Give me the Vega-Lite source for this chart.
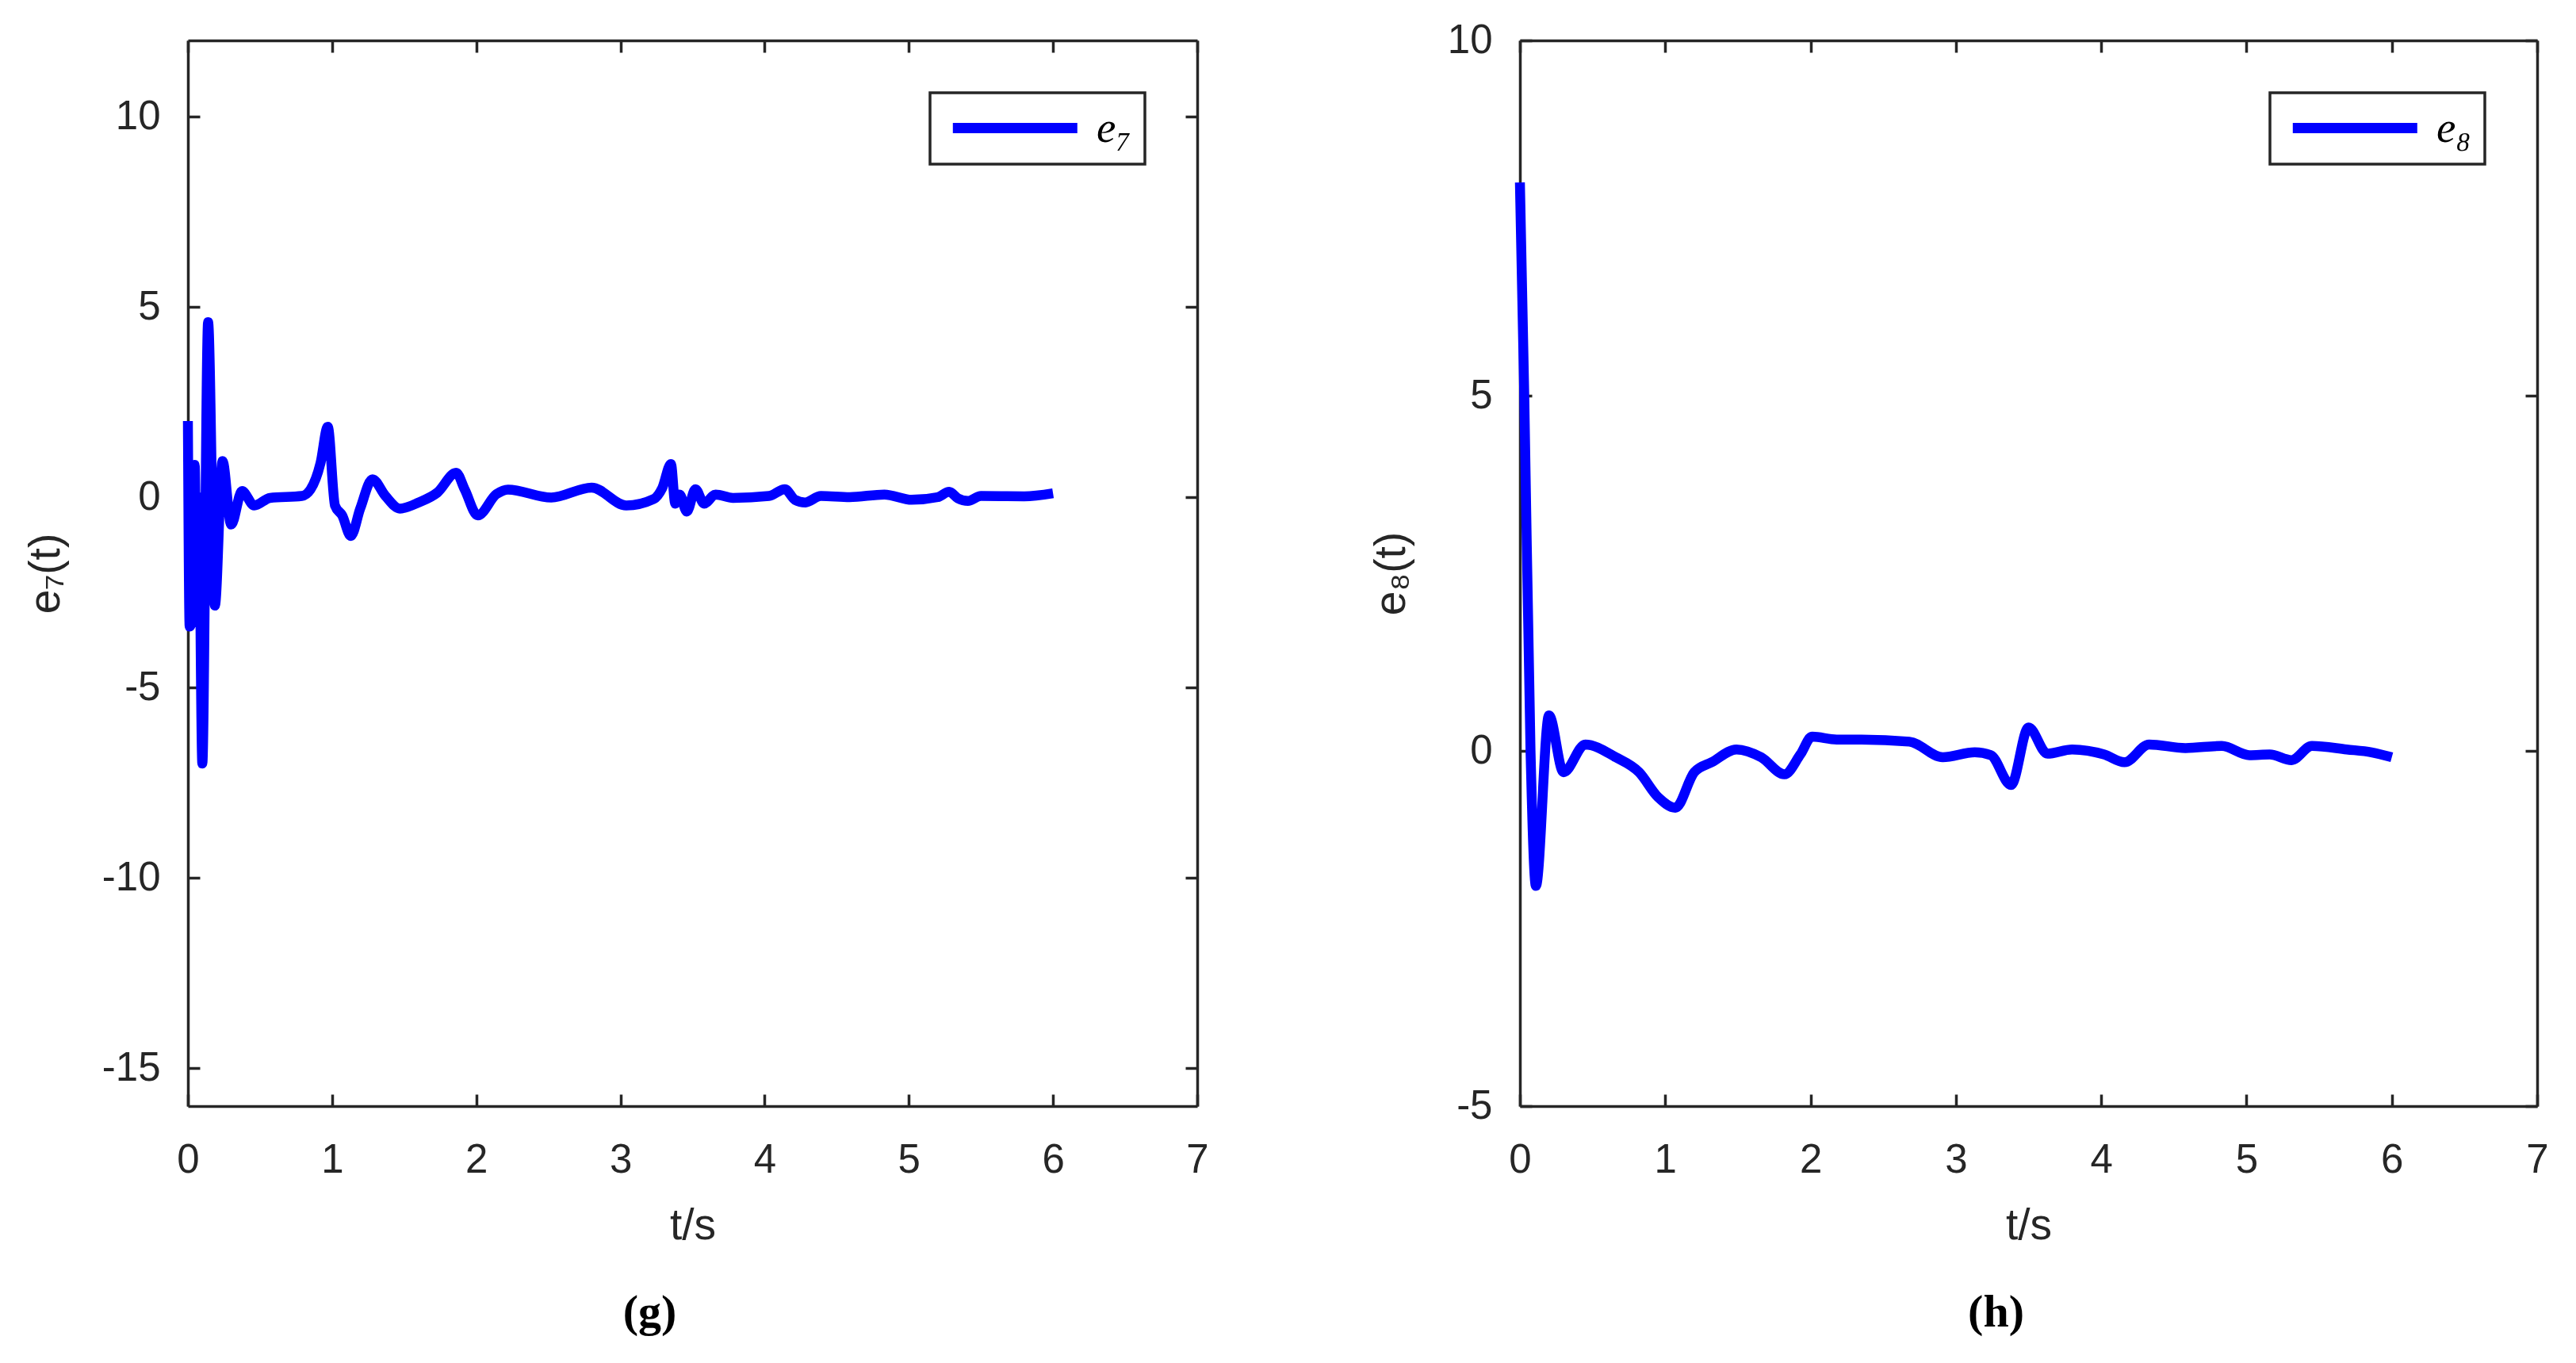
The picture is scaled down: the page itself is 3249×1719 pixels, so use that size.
{
  "$schema": "https://vega.github.io/schema/vega-lite/v6.json",
  "padding": {"left": 30, "top": 25, "right": 40, "bottom": 20},
  "background": "white",
  "config": {
    "view": {"stroke": null},
    "axis": {
      "grid": false,
      "domainColor": "#262626", "domainWidth": 3.5,
      "tickColor": "#262626", "tickWidth": 3.5, "tickSize": -15,
      "labelFont": "Liberation Sans", "labelFontSize": 51, "labelColor": "#262626",
      "labelFlush": false, "labelOverlap": false, "labelExpr": "datum.value + ''",
      "titleFont": "Liberation Sans", "titleFontSize": 55, "titleColor": "#262626", "titleFontWeight": "normal"
    },
    "legend": {
      "orient": "top-right", "offset": 66, "title": null,
      "fillColor": "white", "strokeColor": "#262626", "padding": 17,
      "symbolType": "M-1,0H9", "symbolSize": 986, "symbolStrokeWidth": 13, "symbolStrokeColor": "#0000ff",
      "labelFont": "Liberation Serif", "labelFontStyle": "italic", "labelFontSize": 55, "labelColor": "#000000", "labelOffset": 138
    },
    "title": {"font": "Liberation Serif", "fontWeight": "bold", "fontSize": 58, "color": "#000000"}
  },
  "hconcat": [
    {
      "width": 1273, "height": 1344,
      "title": {"text": "(g)", "orient": "bottom", "frame": "group", "dx": -54, "offset": 54},
      "data": {"values": [
        {"t": 0, "v": 2.0, "s": "e₇"}, {"t": 0.012, "v": -3.4, "s": "e₇"}, {"t": 0.03, "v": -3.2, "s": "e₇"},
        {"t": 0.047, "v": 0.85, "s": "e₇"}, {"t": 0.062, "v": -2.6, "s": "e₇"}, {"t": 0.075, "v": 0.0, "s": "e₇"},
        {"t": 0.1, "v": -7.0, "s": "e₇"}, {"t": 0.14, "v": 4.6, "s": "e₇"}, {"t": 0.187, "v": -2.85, "s": "e₇"},
        {"t": 0.24, "v": 0.95, "s": "e₇"}, {"t": 0.3, "v": -0.72, "s": "e₇"}, {"t": 0.375, "v": 0.16, "s": "e₇"},
        {"t": 0.46, "v": -0.22, "s": "e₇"}, {"t": 0.57, "v": -0.02, "s": "e₇"}, {"t": 0.79, "v": 0.03, "s": "e₇"},
        {"t": 0.85, "v": 0.2, "s": "e₇"}, {"t": 0.92, "v": 0.9, "s": "e₇"}, {"t": 0.97, "v": 1.85, "s": "e₇"},
        {"t": 1.02, "v": -0.22, "s": "e₇"}, {"t": 1.07, "v": -0.48, "s": "e₇"}, {"t": 1.13, "v": -1.02, "s": "e₇"},
        {"t": 1.195, "v": -0.3, "s": "e₇"}, {"t": 1.28, "v": 0.47, "s": "e₇"}, {"t": 1.37, "v": 0.03, "s": "e₇"},
        {"t": 1.47, "v": -0.3, "s": "e₇"}, {"t": 1.6, "v": -0.14, "s": "e₇"}, {"t": 1.73, "v": 0.12, "s": "e₇"},
        {"t": 1.86, "v": 0.64, "s": "e₇"}, {"t": 1.92, "v": 0.2, "s": "e₇"}, {"t": 2.01, "v": -0.48, "s": "e₇"},
        {"t": 2.14, "v": 0.08, "s": "e₇"}, {"t": 2.22, "v": 0.2, "s": "e₇"}, {"t": 2.52, "v": -0.01, "s": "e₇"},
        {"t": 2.8, "v": 0.25, "s": "e₇"}, {"t": 3.04, "v": -0.22, "s": "e₇"}, {"t": 3.23, "v": -0.05, "s": "e₇"},
        {"t": 3.29, "v": 0.24, "s": "e₇"}, {"t": 3.35, "v": 0.87, "s": "e₇"}, {"t": 3.38, "v": -0.17, "s": "e₇"},
        {"t": 3.41, "v": 0.07, "s": "e₇"}, {"t": 3.46, "v": -0.38, "s": "e₇"}, {"t": 3.52, "v": 0.21, "s": "e₇"},
        {"t": 3.58, "v": -0.17, "s": "e₇"}, {"t": 3.66, "v": 0.07, "s": "e₇"}, {"t": 3.78, "v": -0.02, "s": "e₇"},
        {"t": 4.03, "v": 0.03, "s": "e₇"}, {"t": 4.14, "v": 0.21, "s": "e₇"}, {"t": 4.21, "v": -0.07, "s": "e₇"},
        {"t": 4.28, "v": -0.14, "s": "e₇"}, {"t": 4.39, "v": 0.03, "s": "e₇"}, {"t": 4.59, "v": 0.0, "s": "e₇"},
        {"t": 4.83, "v": 0.07, "s": "e₇"}, {"t": 5.02, "v": -0.07, "s": "e₇"}, {"t": 5.2, "v": 0.0, "s": "e₇"},
        {"t": 5.28, "v": 0.14, "s": "e₇"}, {"t": 5.34, "v": -0.03, "s": "e₇"}, {"t": 5.41, "v": -0.1, "s": "e₇"},
        {"t": 5.5, "v": 0.03, "s": "e₇"}, {"t": 5.8, "v": 0.02, "s": "e₇"}, {"t": 6.0, "v": 0.1, "s": "e₇"}
      ]},
      "layer": [
        {
          "mark": {"type": "line", "strokeWidth": 12.5, "interpolate": "monotone", "strokeCap": "butt", "strokeJoin": "round"},
          "encoding": {
            "x": {"field": "t", "type": "quantitative", "title": "t/s",
                  "scale": {"domain": [0, 7], "nice": false, "zero": false},
                  "axis": {"orient": "bottom", "values": [0, 1, 2, 3, 4, 5, 6, 7], "labelPadding": 58, "titlePadding": 31}},
            "y": {"field": "v", "type": "quantitative", "title": "e₇(t)",
                  "scale": {"domain": [-16, 12], "nice": false, "zero": false},
                  "axis": {"orient": "left", "values": [-15, -10, -5, 0, 5, 10], "labelPadding": 50, "titlePadding": 42}},
            "color": {"field": "s", "type": "nominal", "scale": {"domain": ["e₇"], "range": ["#0000ff"]},
                      "legend": {"encode": {"legend": {"update": {"strokeWidth": {"value": 3.5}}}}}}
          }
        },
        {
          "mark": {"type": "line", "opacity": 0},
          "encoding": {
            "x": {"field": "t", "type": "quantitative",
                  "scale": {"domain": [0, 7], "nice": false, "zero": false},
                  "axis": {"orient": "top", "values": [0, 1, 2, 3, 4, 5, 6, 7], "labels": false, "title": null}},
            "y": {"field": "v", "type": "quantitative",
                  "scale": {"domain": [-16, 12], "nice": false, "zero": false},
                  "axis": {"orient": "right", "values": [-15, -10, -5, 0, 5, 10], "labels": false, "title": null}}
          }
        }
      ],
      "resolve": {"axis": {"x": "independent", "y": "independent"}}
    },
    {
      "width": 1283, "height": 1344,
      "title": {"text": "(h)", "orient": "bottom", "frame": "group", "dx": -41, "offset": 54},
      "data": {"values": [
        {"t": 0, "v": 8.0, "s": "e₈"}, {"t": 0.03, "v": 5.0, "s": "e₈"}, {"t": 0.073, "v": 0.0, "s": "e₈"},
        {"t": 0.11, "v": -1.9, "s": "e₈"}, {"t": 0.2, "v": 0.5, "s": "e₈"}, {"t": 0.3, "v": -0.3, "s": "e₈"},
        {"t": 0.45, "v": 0.09, "s": "e₈"}, {"t": 0.66, "v": -0.09, "s": "e₈"}, {"t": 0.82, "v": -0.3, "s": "e₈"},
        {"t": 0.95, "v": -0.65, "s": "e₈"}, {"t": 1.07, "v": -0.8, "s": "e₈"}, {"t": 1.2, "v": -0.3, "s": "e₈"},
        {"t": 1.32, "v": -0.16, "s": "e₈"}, {"t": 1.49, "v": 0.02, "s": "e₈"}, {"t": 1.66, "v": -0.09, "s": "e₈"},
        {"t": 1.82, "v": -0.33, "s": "e₈"}, {"t": 1.93, "v": -0.05, "s": "e₈"}, {"t": 2.01, "v": 0.2, "s": "e₈"},
        {"t": 2.18, "v": 0.16, "s": "e₈"}, {"t": 2.35, "v": 0.16, "s": "e₈"}, {"t": 2.68, "v": 0.13, "s": "e₈"},
        {"t": 2.91, "v": -0.09, "s": "e₈"}, {"t": 3.13, "v": -0.02, "s": "e₈"}, {"t": 3.24, "v": -0.06, "s": "e₈"},
        {"t": 3.38, "v": -0.48, "s": "e₈"}, {"t": 3.5, "v": 0.33, "s": "e₈"}, {"t": 3.63, "v": -0.04, "s": "e₈"},
        {"t": 3.8, "v": 0.02, "s": "e₈"}, {"t": 4.02, "v": -0.05, "s": "e₈"}, {"t": 4.16, "v": -0.16, "s": "e₈"},
        {"t": 4.33, "v": 0.09, "s": "e₈"}, {"t": 4.58, "v": 0.04, "s": "e₈"}, {"t": 4.83, "v": 0.07, "s": "e₈"},
        {"t": 5.02, "v": -0.06, "s": "e₈"}, {"t": 5.16, "v": -0.05, "s": "e₈"}, {"t": 5.31, "v": -0.13, "s": "e₈"},
        {"t": 5.45, "v": 0.07, "s": "e₈"}, {"t": 5.69, "v": 0.02, "s": "e₈"}, {"t": 5.86, "v": -0.02, "s": "e₈"},
        {"t": 6.0, "v": -0.09, "s": "e₈"}
      ]},
      "layer": [
        {
          "mark": {"type": "line", "strokeWidth": 12.5, "interpolate": "monotone", "strokeCap": "butt", "strokeJoin": "round"},
          "encoding": {
            "x": {"field": "t", "type": "quantitative", "title": "t/s",
                  "scale": {"domain": [0, 7], "nice": false, "zero": false},
                  "axis": {"orient": "bottom", "values": [0, 1, 2, 3, 4, 5, 6, 7], "labelPadding": 58, "titlePadding": 31}},
            "y": {"field": "v", "type": "quantitative", "title": "e₈(t)",
                  "scale": {"domain": [-5, 10], "nice": false, "zero": false},
                  "axis": {"orient": "left", "values": [-5, 0, 5, 10], "labelPadding": 50, "titlePadding": 42}},
            "color": {"field": "s", "type": "nominal", "scale": {"domain": ["e₈"], "range": ["#0000ff"]},
                      "legend": {"encode": {"legend": {"update": {"strokeWidth": {"value": 3.5}}}}}}
          }
        },
        {
          "mark": {"type": "line", "opacity": 0},
          "encoding": {
            "x": {"field": "t", "type": "quantitative",
                  "scale": {"domain": [0, 7], "nice": false, "zero": false},
                  "axis": {"orient": "top", "values": [0, 1, 2, 3, 4, 5, 6, 7], "labels": false, "title": null}},
            "y": {"field": "v", "type": "quantitative",
                  "scale": {"domain": [-5, 10], "nice": false, "zero": false},
                  "axis": {"orient": "right", "values": [-5, 0, 5, 10], "labels": false, "title": null}}
          }
        }
      ],
      "resolve": {"axis": {"x": "independent", "y": "independent"}}
    }
  ],
  "spacing": 407,
  "bounds": "flush",
  "resolve": {"scale": {"color": "independent"}, "legend": {"color": "independent"}}
}
